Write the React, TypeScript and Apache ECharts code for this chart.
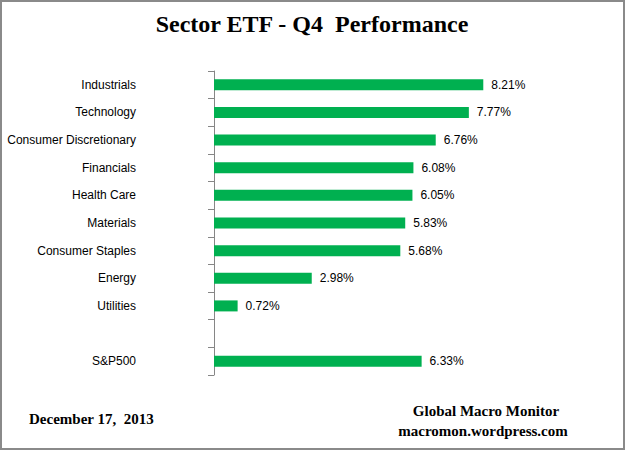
import React, { useEffect, useRef } from "react";
import * as echarts from "echarts";

const categories = [
  "Industrials",
  "Technology",
  "Consumer Discretionary",
  "Financials",
  "Health Care",
  "Materials",
  "Consumer Staples",
  "Energy",
  "Utilities",
  "",
  "S&P500",
];
const values: (number | null)[] = [8.21, 7.77, 6.76, 6.08, 6.05, 5.83, 5.68, 2.98, 0.72, null, 6.33];

const titleText = "Sector ETF - Q4  Performance";
const dateText = "December 17,  2013";
const sourceLines = ["Global Macro Monitor", "macromon.wordpress.com"];

export default function App() {
  const ref = useRef<HTMLDivElement>(null);
  useEffect(() => {
    if (!ref.current) return;
    const chart = echarts.init(ref.current, null, { renderer: "svg" });
    const labelFont = "'Liberation Sans', Arial, sans-serif";
    const serif = "'Liberation Serif', 'Times New Roman', serif";
    chart.setOption({
      animation: false,
      backgroundColor: "#ffffff",
      graphic: [
        {
          type: "rect",
          shape: { x: 1, y: 1, width: 623, height: 448 },
          style: { fill: "none", stroke: "#8a8a8a", lineWidth: 2 },
          silent: true,
        },
        {
          type: "text",
          x: 312,
          y: 24,
          style: {
            text: titleText,
            fontFamily: serif,
            fontSize: 24,
            fontWeight: "bold",
            fill: "#000",
            align: "center",
            verticalAlign: "middle",
          },
        },
        {
          type: "text",
          x: 29,
          y: 419,
          style: {
            text: dateText,
            fontFamily: serif,
            fontSize: 15,
            fontWeight: "bold",
            fill: "#000",
            verticalAlign: "middle",
          },
        },
        {
          type: "text",
          x: 486,
          y: 411,
          style: {
            text: sourceLines[0],
            fontFamily: serif,
            fontSize: 15,
            fontWeight: "bold",
            fill: "#000",
            align: "center",
            verticalAlign: "middle",
          },
        },
        {
          type: "text",
          x: 483,
          y: 431,
          style: {
            text: sourceLines[1],
            fontFamily: serif,
            fontSize: 15,
            fontWeight: "bold",
            fill: "#000",
            align: "center",
            verticalAlign: "middle",
          },
        },
      ],
      grid: { left: 214, top: 71, width: 328, height: 304, containLabel: false },
      xAxis: {
        type: "value",
        min: 0,
        max: 10,
        show: false,
      },
      yAxis: {
        type: "category",
        data: categories,
        inverse: true,
        axisLine: { show: true, lineStyle: { color: "#868686", width: 1 } },
        axisTick: { show: true, length: 6, lineStyle: { color: "#868686" } },
        axisLabel: {
          margin: 78,
          fontFamily: labelFont,
          fontSize: 12,
          color: "#000",
        },
        splitLine: { show: false },
      },
      series: [
        {
          type: "bar",
          data: values,
          barWidth: 11,
          itemStyle: { color: "#00B050" },
          label: {
            show: true,
            position: "right",
            distance: 8,
            fontFamily: labelFont,
            fontSize: 12,
            color: "#000",
            formatter: (p: any) => (p.value == null ? "" : `${Number(p.value).toFixed(2)}%`),
          },
        },
      ],
    });
    return () => chart.dispose();
  }, []);
  return (
    <div
      ref={ref}
      style={{ position: "absolute", left: 0, top: 0, width: 626, height: 451 }}
    />
  );
}
